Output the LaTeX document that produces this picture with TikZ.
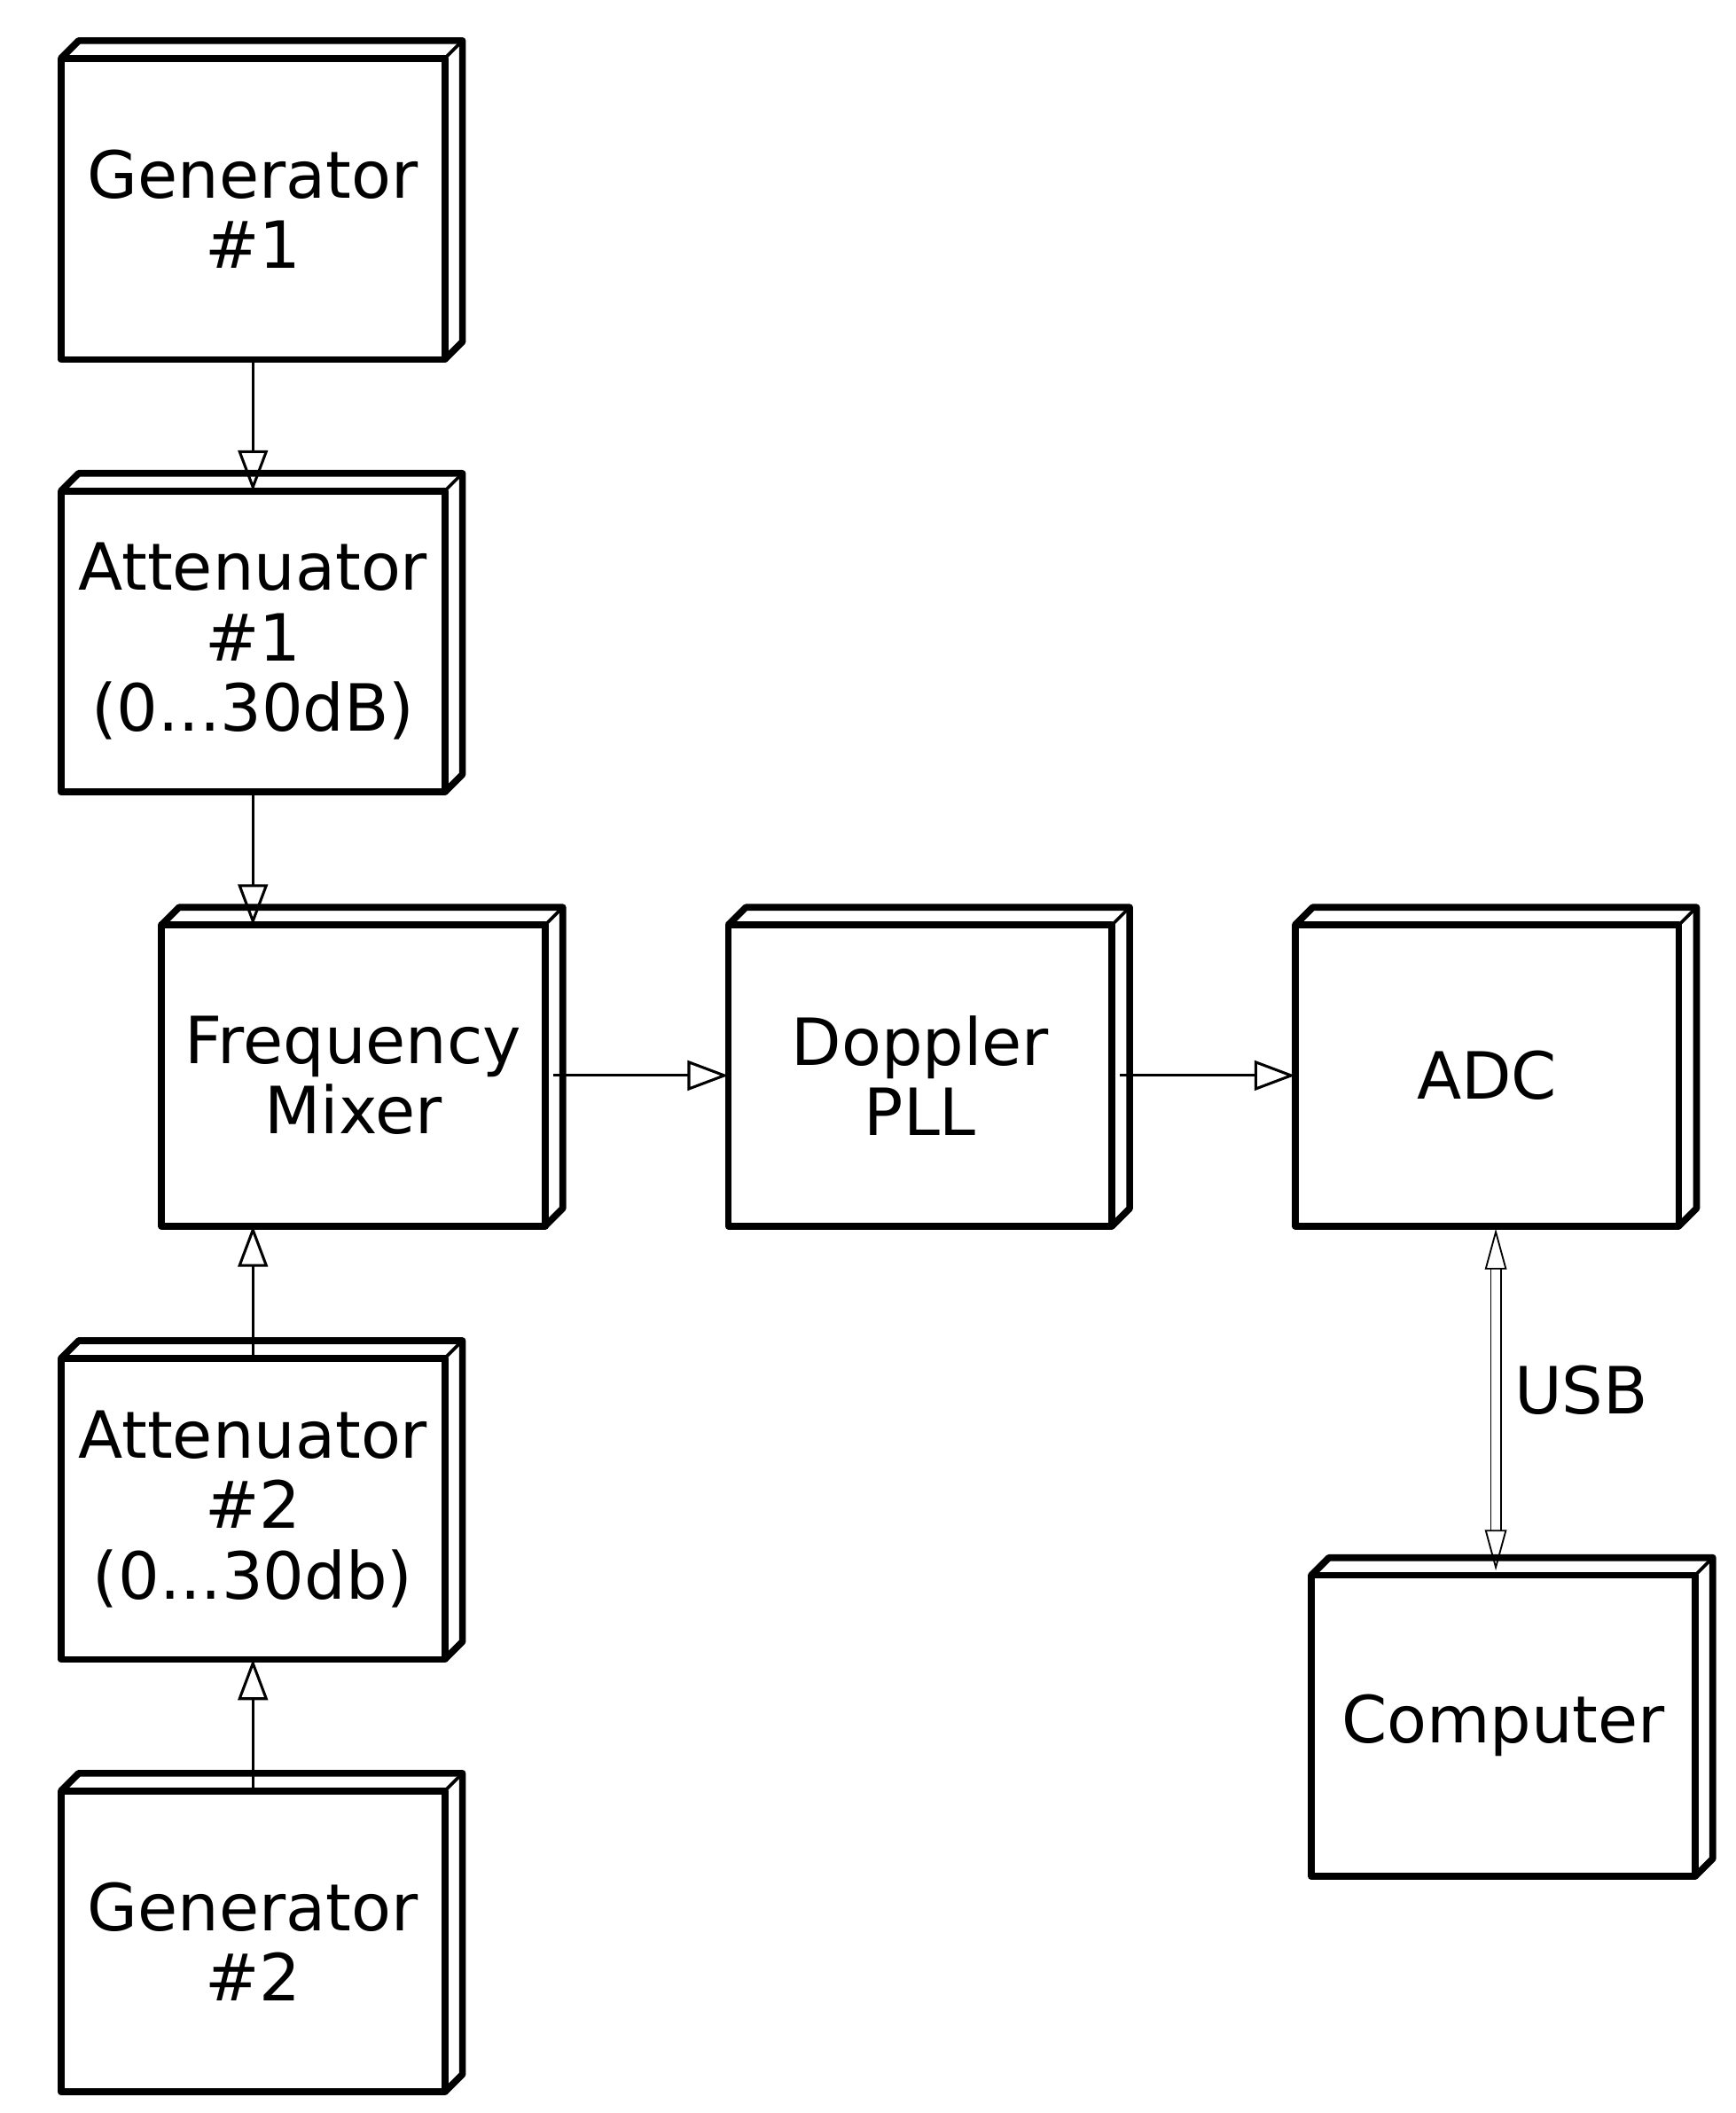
\documentclass[tikz,border=0pt]{standalone}
\usepackage{fontspec}
\setmainfont{DejaVu Sans}
\usetikzlibrary{arrows.meta}
\begin{document}
\begin{tikzpicture}[x=0.5pt,y=-0.5pt,
  box/.style={draw,line width=2.5pt,minimum width=141.5pt,minimum height=111pt,inner sep=0pt,outer sep=0pt,align=center,font=\fontsize{24}{26}\selectfont,line join=round},
  conn/.style={line width=1pt,-{Triangle[open,length=15pt,width=11pt,line width=1pt]}},
  usb/.style={double,double distance=3pt,line width=0.6pt,{Triangle[open,length=15pt,width=8pt]}-{Triangle[open,length=15pt,width=8pt]}}]
\useasboundingbox (0,0) rectangle (1280,1558);
\newcommand{\extr}[1]{%
  \draw[line width=2.5pt,line join=round] (#1.north west) -- ++(13,-13) -- ([xshift=6.5pt,yshift=6.5pt]#1.north east) -- ([xshift=6.5pt,yshift=6.5pt]#1.south east) -- (#1.south east);
  \draw[line width=1.2pt] (#1.north east) -- ++(13,-13);}
\node[box] (g1) at (186.5,154) {Generator\\\#1};
\node[box] (a1) at (186.5,473) {Attenuator\\\#1\\(0...30dB)};
\node[box] (mx) at (260.5,793) {Frequency\\Mixer};
\node[box] (dp) at (678.5,793) {Doppler\\PLL};
\node[box] (adc) at (1096.5,793) {ADC};
\node[box] (a2) at (186.5,1112.5) {Attenuator\\\#2\\(0...30db)};
\node[box] (g2) at (186.5,1431.5) {Generator\\\#2};
\node[box] (pc) at (1108.5,1272.5) {Computer};
\foreach \n in {g1,a1,mx,dp,adc,a2,g2,pc} {\extr{\n}}
\draw[conn] (g1.south) -- (a1.north);
\draw[conn] (a1.south) -- (a1.south |- mx.north);
\draw[conn] (a2.north) -- (a2.north |- mx.south);
\draw[conn] (g2.north) -- (a2.south);
\draw[conn] ([xshift=3pt]mx.east) -- (dp.west);
\draw[conn] ([xshift=3pt]dp.east) -- (adc.west);
\coordinate (u1) at (1103,906);
\coordinate (u2) at (1103,1158);
\draw[usb] (u1) -- (u2);
\node[font=\fontsize{24}{26}\selectfont] (usbl) at (1166,1025) {USB};
\end{tikzpicture}
\end{document}
